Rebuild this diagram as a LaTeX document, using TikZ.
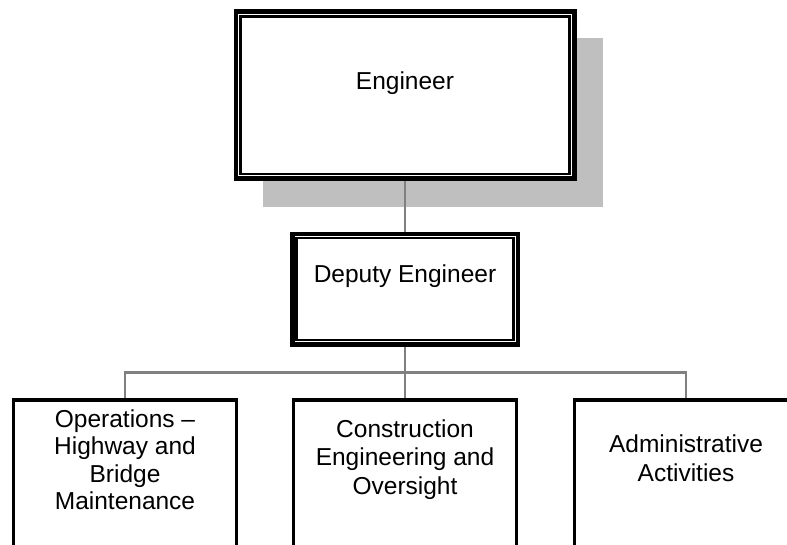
\documentclass[tikz,border=0pt]{standalone}
\usepackage{fontspec}
\setmainfont{Liberation Sans}
\usetikzlibrary{calc}
\begin{document}
\begin{tikzpicture}[x=1pt,y=-1pt,
  txt/.style={font=\fontsize{24.5}{28.5}\selectfont, align=center, inner sep=0pt, anchor=base},
  headbox/.style={draw, fill=white, line width=3pt, inner sep=0pt},
  unitbox/.style={draw, fill=white, line width=3pt, inner sep=0pt,
                  minimum width=223pt, minimum height=200pt},
  conn/.style={draw=black!50, line width=2.5pt},
  shade/.style={fill=black!25}]
\useasboundingbox (0,0) rectangle (787,544);

% drop shadow behind the top box
\fill[shade] (263,38) rectangle (603,207);

% boxes
\node[headbox, minimum width=337pt, minimum height=165.5pt] (eng) at (405,95.1) {};
\node[headbox, minimum width=224pt, minimum height=109pt] (dep) at (405,289) {};
\node[unitbox] (ops) at (125,500.5) {};
\node[unitbox] (con) at (405,500.5) {};
\node[unitbox] (adm) at (686,500.5) {};

% connectors
\coordinate (bus) at (405,372.5);
\draw[conn] (eng.south) -- (dep.north);
\draw[conn] (dep.south) -- (bus);
\draw[conn] (ops.north) |- (bus) -| (adm.north);
\draw[conn] (bus) -- (con.north);

% redraw box borders over connector ends
\draw[line width=3pt] (eng.north west) rectangle (eng.south east);
\draw[line width=3pt] (dep.north west) rectangle (dep.south east);
\draw[line width=3pt] (ops.north west) -- (ops.north east);
\draw[line width=3pt] (con.north west) -- (con.north east);
\draw[line width=3pt] (adm.north west) -- (adm.north east);

% inner rules of the double frames
\draw[line width=2.3pt] ([shift={(5.5,5.5)}]eng.north west) rectangle ([shift={(-5.5,-5.5)}]eng.south east);
\draw[line width=2.3pt] ([shift={(5,5)}]dep.north west) rectangle ([shift={(-5,-5)}]dep.south east);

% labels (a multi-line label sits on the baseline of its last line)
\node[txt] (engl) at (405,89) {Engineer};
\node[txt] (depl) at (405,282) {Deputy Engineer};
\node[txt, font=\fontsize{24.5}{27.5}\selectfont] (opsl) at (125,509.5) {Operations --\\Highway and\\Bridge\\Maintenance};
\node[txt] (conl) at (405,494) {Construction\\Engineering and\\Oversight};
\node[txt, font=\fontsize{24.5}{29}\selectfont] (adml) at (686,481.5) {Administrative\\Activities};
\end{tikzpicture}
\end{document}
